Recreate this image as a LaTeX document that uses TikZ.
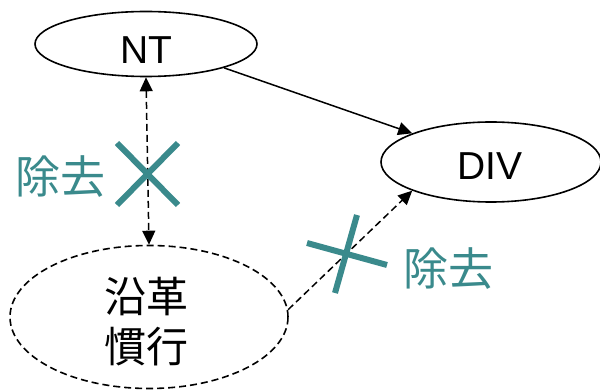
\documentclass[tikz,border=0pt]{standalone}
\usepackage{fontspec}
\setmainfont{Liberation Sans}
\newfontfamily\cjk{Noto Sans CJK JP}
\usetikzlibrary{arrows.meta,shapes.geometric}
\definecolor{tealx}{RGB}{58,138,140}
\begin{document}
\begin{tikzpicture}[x=1pt,y=-1pt,
  ell/.style={draw, ellipse, line width=1.6pt, inner sep=0pt},
  dsh/.style={dash pattern=on 7pt off 4pt},
  tip/.style={-{Triangle[length=14pt,width=13pt]}},
  cross/.style={draw=tealx, line width=6pt},
  lbl/.style={text=tealx, font=\cjk\fontsize{45}{50}\selectfont}]
\useasboundingbox (0,0) rectangle (600,390);
\node[ell, minimum width=222pt, minimum height=65pt] (nt) at (146,44) {};
\node[font=\fontsize{39}{44}\selectfont] (ntt) at (146,50) {NT};
\node[ell, minimum width=220pt, minimum height=80pt] (dv) at (491,162) {};
\node[font=\fontsize{39}{44}\selectfont] (dvt) at (490,166) {DIV};
\node[ell, dsh, minimum width=278pt, minimum height=143pt] (s) at (149,317) {};
\node[align=center, font=\cjk\fontsize{42}{50}\selectfont] (st) at (146,322) {沿革\\慣行};
\draw[line width=1.5pt, tip] (nt.-17) -- (dv.160);
\draw[line width=1.5pt, dsh, {Triangle[length=14pt,width=13pt]}-{Triangle[length=14pt,width=13pt]}] (nt.south) -- (s.north);
\draw[line width=1.5pt, dsh, tip] (s.3) -- (dv.200);
% cross 1
\coordinate (a1) at (117,143); \coordinate (a2) at (178,205);
\coordinate (b1) at (178,143); \coordinate (b2) at (117,205);
\draw[cross] (a1) -- (a2);
\draw[cross] (b1) -- (b2);
% cross 2
\coordinate (c1) at (307,243); \coordinate (c2) at (387,265);
\coordinate (e1) at (357,215); \coordinate (e2) at (335,293);
\draw[cross] (c1) -- (c2);
\draw[cross] (e1) -- (e2);
\node[lbl] (l1) at (61,177) {除去};
\node[lbl] (l2) at (448,269) {除去};
\end{tikzpicture}
\end{document}
